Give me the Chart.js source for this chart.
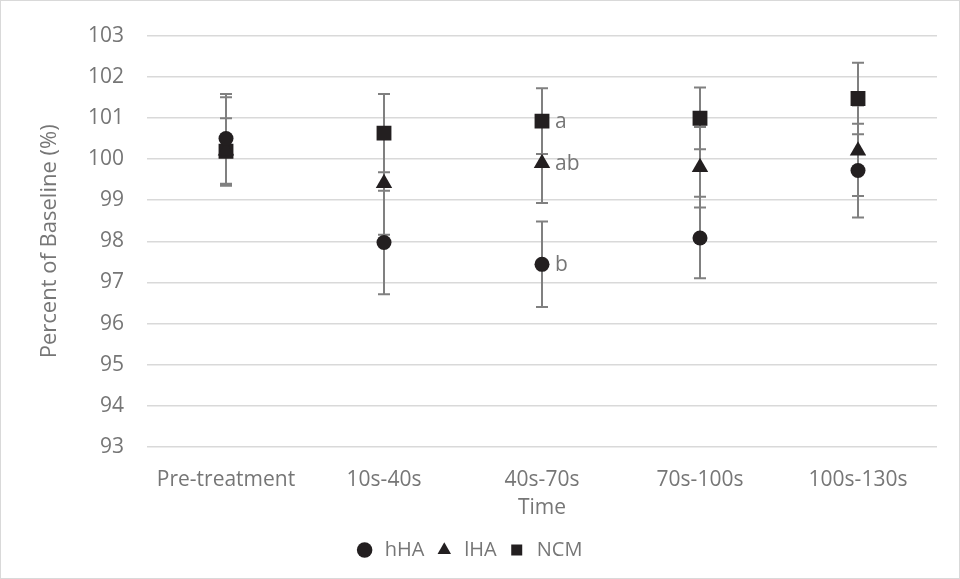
<!DOCTYPE html>
<html>
<head>
<meta charset="utf-8">
<script src="https://cdn.jsdelivr.net/npm/chart.js@4.4.1/dist/chart.umd.min.js"></script>
<style>
  html, body { margin: 0; padding: 0; background: #fff; }
  #wrap { width: 960px; height: 579px; }
</style>
</head>
<body>
<div id="wrap"><canvas id="chart" width="960" height="579"></canvas></div>
<script>
// categories on the x axis
const categories = ['Pre-treatment', '10s-40s', '40s-70s', '70s-100s', '100s-130s'];

// means (percent of baseline)
const hHA = [100.5, 97.97, 97.44, 98.08, 99.72];
const lHA = [100.2, 99.41, 99.9, 99.8, 100.2];
const NCM = [100.19, 100.63, 100.92, 100.99, 101.47];

// error bar sizes (up / down)
const hHAPlus = [1.08, 1.26, 1.04, 1.0, 1.14];
const hHAMinus = [1.1, 1.26, 1.04, 0.98, 1.14];
const lHAPlus = [1.3, 1.25, 0.97, 0.98, 1.1];
const lHAMinus = [0.85, 1.25, 0.97, 0.98, 1.1];
const NCMPlus = [0.8, 0.95, 0.8, 0.75, 0.87];
const NCMMinus = [0.8, 0.95, 0.8, 0.75, 0.87];

// significance letters
const hHASig = ['', '', 'b', '', ''];
const lHASig = ['', '', 'ab', '', ''];
const NCMSig = ['', '', 'a', '', ''];

const yTicks = [93, 94, 95, 96, 97, 98, 99, 100, 101, 102, 103];

const grey = '#767676';
const mark = '#231f20';
const fontFamily = '"Open Sans", sans-serif';

// outer border of the chart
const borderPlugin = {
  id: 'outerBorder',
  beforeDraw(chart) {
    const ctx = chart.ctx;
    ctx.save();
    ctx.fillStyle = '#fff';
    ctx.fillRect(0, 0, chart.width, chart.height);
    ctx.strokeStyle = '#d9d9d9';
    ctx.lineWidth = 1;
    ctx.strokeRect(0.5, 0.5, chart.width - 1, chart.height - 1);
    ctx.restore();
  }
};

// error bars
const errorBarPlugin = {
  id: 'errorBars',
  beforeDatasetsDraw(chart) {
    const ctx = chart.ctx;
    const y = chart.scales.y;
    ctx.save();
    ctx.strokeStyle = '#808080';
    ctx.lineWidth = 2;
    chart.data.datasets.forEach((ds, i) => {
      const meta = chart.getDatasetMeta(i);
      meta.data.forEach((pt, j) => {
        const v = ds.data[j];
        const top = y.getPixelForValue(v + ds.errPlus[j]);
        const bot = y.getPixelForValue(v - ds.errMinus[j]);
        const x = pt.x;
        ctx.beginPath();
        ctx.moveTo(x, top);
        ctx.lineTo(x, bot);
        ctx.moveTo(x - 6, top);
        ctx.lineTo(x + 6, top);
        ctx.moveTo(x - 6, bot);
        ctx.lineTo(x + 6, bot);
        ctx.stroke();
      });
    });
    ctx.restore();
  }
};

// letters next to the markers
const sigPlugin = {
  id: 'sigLabels',
  afterDatasetsDraw(chart) {
    const ctx = chart.ctx;
    ctx.save();
    ctx.fillStyle = grey;
    ctx.font = '21px ' + fontFamily;
    ctx.textAlign = 'left';
    ctx.textBaseline = 'middle';
    chart.data.datasets.forEach((ds, i) => {
      const meta = chart.getDatasetMeta(i);
      meta.data.forEach((pt, j) => {
        if (ds.sig[j]) ctx.fillText(ds.sig[j], pt.x + 13, pt.y + 1);
      });
    });
    ctx.restore();
  }
};

new Chart(document.getElementById('chart'), {
  type: 'line',
  data: {
    labels: categories,
    datasets: [
      { label: 'hHA', data: hHA, errPlus: hHAPlus, errMinus: hHAMinus, sig: hHASig,
        pointStyle: 'circle', pointRadius: 7.5 },
      { label: 'lHA', data: lHA, errPlus: lHAPlus, errMinus: lHAMinus, sig: lHASig,
        pointStyle: 'triangle', pointRadius: 9.5 },
      { label: 'NCM', data: NCM, errPlus: NCMPlus, errMinus: NCMMinus, sig: NCMSig,
        pointStyle: 'rect', pointRadius: 10.5 }
    ].map(d => Object.assign(d, {
      showLine: false,
      backgroundColor: mark,
      borderColor: mark,
      borderWidth: 0,
      pointBackgroundColor: mark,
      pointBorderColor: mark,
      pointBorderWidth: 0,
      pointHoverRadius: d.pointRadius
    }))
  },
  options: {
    responsive: false,
    animation: false,
    layout: { padding: { top: 31, right: 23, bottom: 9, left: 0 } },
    plugins: {
      tooltip: { enabled: false },
      legend: {
        position: 'bottom',
        labels: {
          usePointStyle: true,
          boxHeight: 11,
          color: grey,
          font: { family: fontFamily, size: 20 },
          padding: 10
        }
      }
    },
    scales: {
      x: {
        offset: true,
        grid: { display: false, drawTicks: false },
        border: { display: false },
        ticks: { color: grey, font: { family: fontFamily, size: 21 }, padding: 20, maxRotation: 0 },
        title: { display: true, text: 'Time', color: grey,
                 font: { family: fontFamily, size: 21 }, padding: { top: 0, bottom: 9 } },
        afterFit(scale) { scale.height = 83; }
      },
      y: {
        min: 93,
        max: 103,
        afterBuildTicks(scale) { scale.ticks = yTicks.map(v => ({ value: v })); },
        grid: { color: '#d9d9d9', lineWidth: 1.5, drawTicks: false },
        border: { display: false },
        ticks: { color: grey, font: { family: fontFamily, size: 21 }, padding: 23 },
        title: { display: true, text: 'Percent of Baseline (%)', color: grey,
                 font: { family: fontFamily, size: 22 }, padding: { top: 37, bottom: 0 } },
        afterFit(scale) { scale.width = 147; }
      }
    }
  },
  plugins: [borderPlugin, errorBarPlugin, sigPlugin]
});
</script>
</body>
</html>
